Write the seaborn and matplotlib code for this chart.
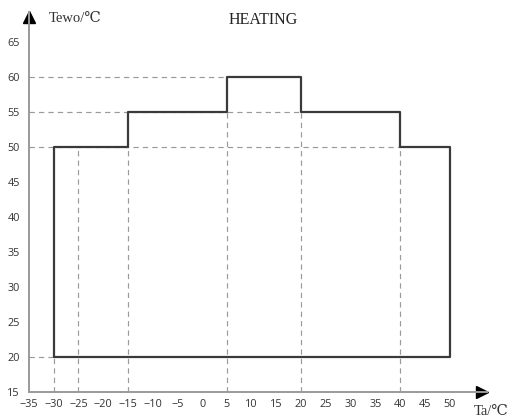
import matplotlib
matplotlib.use("Agg")
import matplotlib.pyplot as plt
import seaborn as sns
import pandas as pd

# ---- data ----
env_ta = [-30, -30, -15, -15, 5, 5, 20, 20, 40, 40, 50, 50, -30]
env_tewo = [20, 50, 50, 55, 55, 60, 60, 55, 55, 50, 50, 20, 20]
h_levels = [60, 55, 50, 20]          # dashed horizontal guides (Tewo)
h_ends = [5, 20, 40, -30]            # where each horizontal guide stops (Ta)
v_positions = [-30, -25, -15, 5, 20, 40]   # dashed vertical guides (Ta)
v_tops = [20, 50, 50, 55, 55, 50]          # where each vertical guide stops (Tewo)
x_ticks = list(range(-35, 55, 5))
y_ticks = list(range(15, 70, 5))
title = "HEATING"
xlabel = "Ta/℃"
ylabel = "Tewo/℃"

sns.set_theme(style="white")
plt.rcParams['font.family'] = ['Open Sans', 'DejaVu Sans']

fig = plt.figure(figsize=(5.13, 4.19), dpi=100)
ax = fig.add_axes([0.0561, 0.0644, 0.893, 0.907])
XMIN, XMAX = -35, 57.5
YMIN, YMAX = 15, 69.3

guide_kw = dict(color="#9a9a9a", lw=0.85, linestyle=(0, (4.5, 3.5)),
                estimator=None, sort=False, legend=False)
for lvl, end in zip(h_levels, h_ends):
    df = pd.DataFrame({"x": [XMIN, end], "y": [lvl, lvl]})
    sns.lineplot(data=df, x="x", y="y", ax=ax, **guide_kw)
for pos, top in zip(v_positions, v_tops):
    df = pd.DataFrame({"x": [pos, pos], "y": [YMIN, top]})
    sns.lineplot(data=df, x="x", y="y", ax=ax, **guide_kw)

env = pd.DataFrame({"Ta": env_ta, "Tewo": env_tewo})
sns.lineplot(data=env, x="Ta", y="Tewo", ax=ax, color="#3a3a3a", lw=1.6,
             estimator=None, sort=False, legend=False)

ax.set_xlim(XMIN, XMAX)
ax.set_ylim(YMIN, YMAX)
ax.set_xticks(x_ticks)
ax.set_yticks(y_ticks)
ax.set_xlabel("")
ax.set_ylabel("")
for s in ["top", "right"]:
    ax.spines[s].set_visible(False)
for s in ["left", "bottom"]:
    ax.spines[s].set_color("#9a9a9a")
    ax.spines[s].set_linewidth(1.4)
ax.tick_params(axis="both", direction="in", length=6, width=1.0,
               color="#8c8c8c", labelsize=7.8, labelcolor="#333333")
ax.tick_params(axis="x", pad=5)
ax.tick_params(axis="y", pad=6.5)
ax.set_facecolor("white")

# arrow heads at the ends of the axes
ax.plot([0.0565], [1 - 17 / 419], marker="^", color="black", markersize=8,
        transform=fig.transFigure, clip_on=False)
ax.plot([482 / 513], [0.0644], marker=">", color="black", markersize=8,
        transform=fig.transFigure, clip_on=False)

serif = ['Liberation Serif', 'DejaVu Serif', 'Noto Sans CJK SC']
fig.text(263 / 513, 1 - 20 / 419, title, ha="center", va="center",
         fontsize=11.5, color="#222222", family=serif)
fig.text(49 / 513, 1 - 18.5 / 419, ylabel, ha="left", va="center",
         fontsize=10.5, color="#333333", family=serif)
fig.text(474 / 513, 1 - 411 / 419, xlabel, ha="left", va="center",
         fontsize=10.5, color="#333333", family=serif)

fig.savefig("out.png", dpi=100, facecolor="white")
